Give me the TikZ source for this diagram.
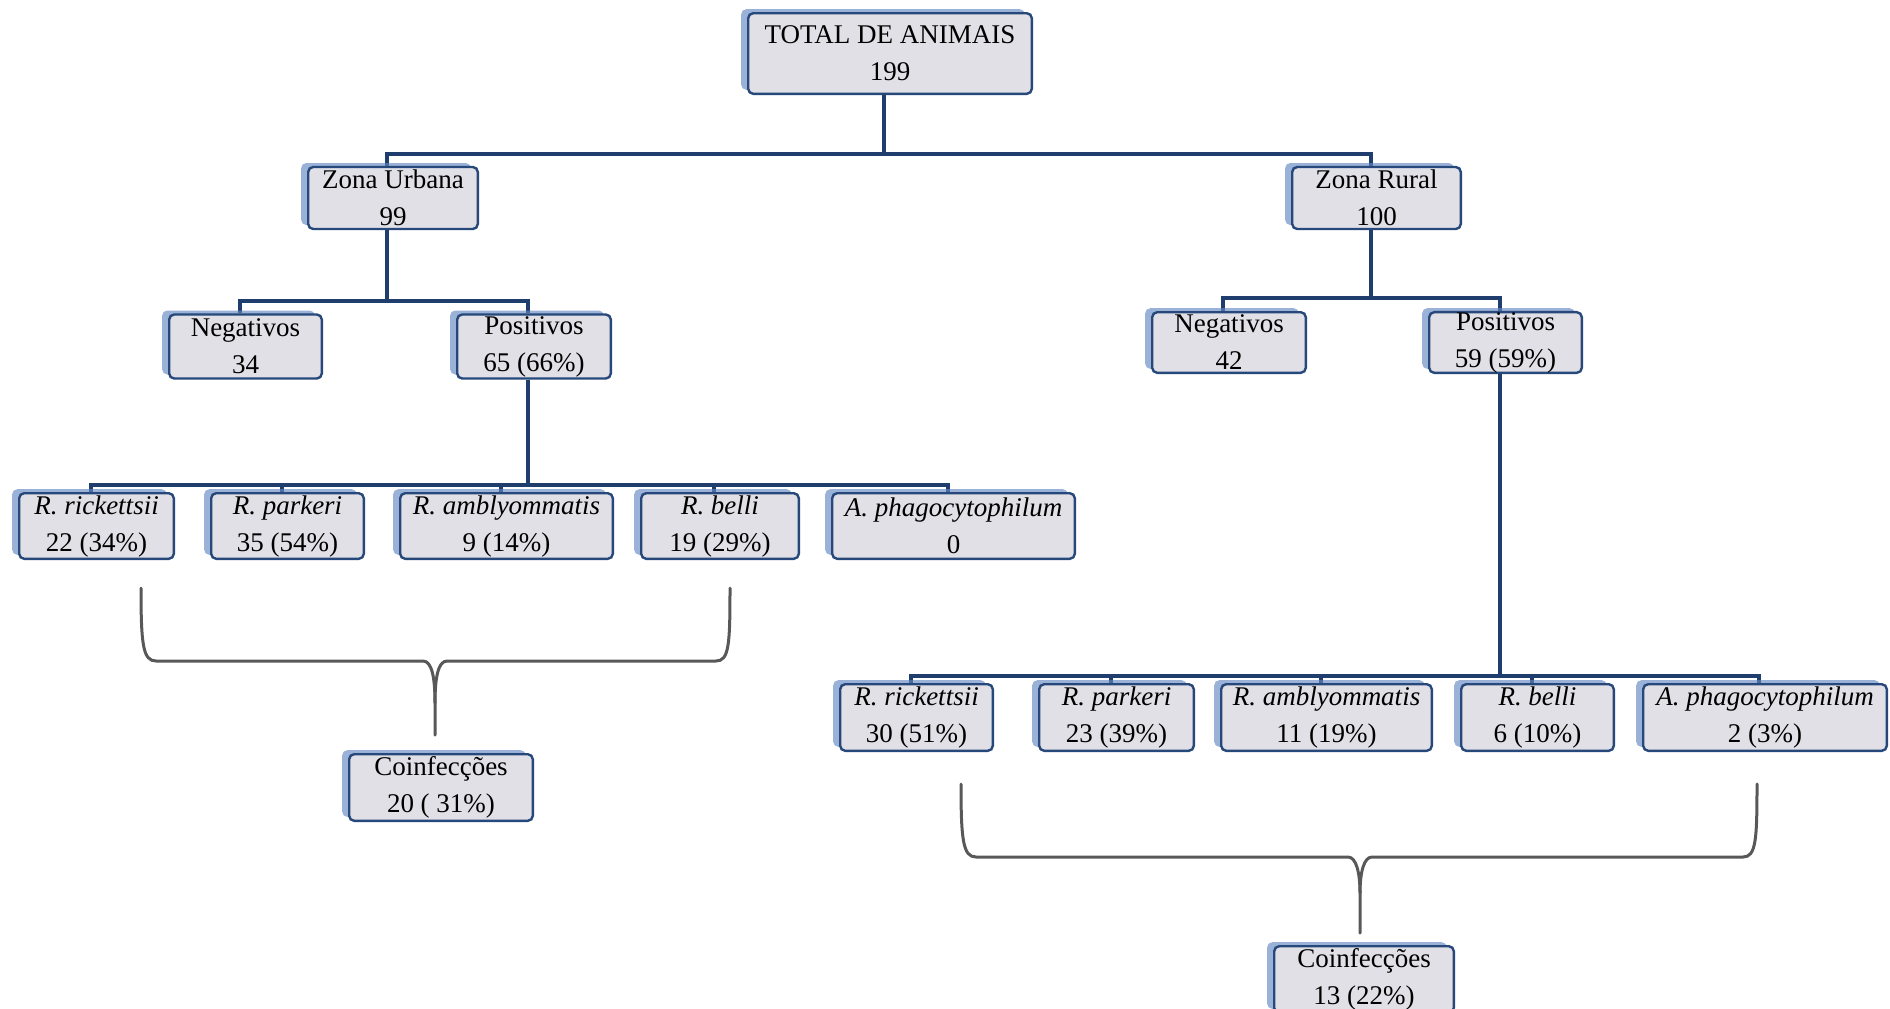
\documentclass[tikz,border=0pt]{standalone}
\usepackage{fontspec}
\setmainfont{Liberation Serif}
\usetikzlibrary{positioning, shadows, backgrounds}
\definecolor{boxfill}{RGB}{225,224,231}
\definecolor{boxline}{RGB}{38,72,122}
\definecolor{linkblue}{RGB}{31,62,110}
\definecolor{shadowblue}{RGB}{100,135,195}
\definecolor{bracegray}{RGB}{88,88,88}
\tikzset{
	x=0.5pt, y=-0.5pt, % one unit is one pixel of the scan, y going down
	box/.style={draw=boxline, line width=1.2pt, fill=boxfill, rounded corners=2.5pt,
		align=center, inner sep=0pt, minimum height=32pt,
		font=\fontsize{13.5pt}{18.5pt}\selectfont,
		drop shadow={shadow xshift=-3.5pt, shadow yshift=2pt, fill=shadowblue, opacity=0.65}}, % the boxes
	link/.style={draw=linkblue, line width=2pt}, % tree lines
	brace/.style={draw=bracegray, line width=1.5pt, line cap=round}, % coinfection braces
}

\begin{document}
\begin{tikzpicture}
		\useasboundingbox (0,0) rectangle (1890,1008);

		% top levels
		\node[box, minimum width=141.8pt, minimum height=40.3pt] (total_node) at (890,53.5) {TOTAL DE ANIMAIS\\199};
		\node[box, minimum width=84.8pt, minimum height=31pt] (urban_node) at (393,198) {Zona Urbana\\99};
		\node[box, minimum width=84.3pt, minimum height=31pt] (rural_node) at (1376.5,198) {Zona Rural\\100};

		\node[box, minimum width=76.3pt] (neg_urban) at (245.5,346.5) {Negativos\\34};
		\node[box, minimum width=76.8pt] (pos_urban) at (534,346.5) {Positivos\\65 (66\%)};
		\node[box, minimum width=76.8pt, minimum height=30.3pt] (neg_rural) at (1229,342.5) {Negativos\\42};
		\node[box, minimum width=76.3pt, minimum height=30.3pt] (pos_rural) at (1505.5,342.5) {Positivos\\59 (59\%)};

		% urban agents
		\node[box, minimum width=77.3pt, minimum height=32.8pt] (rick_urban) at (96.5,526) {\textit{R. rickettsii}\\22 (34\%)};
		\node[box, minimum width=76.3pt, minimum height=32.8pt, right=17.5pt of rick_urban] (park_urban) {\textit{R. parkeri}\\35 (54\%)};
		\node[box, minimum width=106.3pt, minimum height=32.8pt, right=17pt of park_urban] (amb_urban) {\textit{R. amblyommatis}\\9 (14\%)};
		\node[box, minimum width=78.8pt, minimum height=32.8pt, right=13pt of amb_urban] (belli_urban) {\textit{R. belli}\\19 (29\%)};
		\node[box, minimum width=121.3pt, minimum height=32.8pt, right=15.5pt of belli_urban] (apha_urban) {\textit{A. phagocytophilum}\\0};

		% rural agents
		\node[box, minimum width=76.3pt, minimum height=33.3pt] (rick_rural) at (916.5,717.5) {\textit{R. rickettsii}\\30 (51\%)};
		\node[box, minimum width=77.3pt, minimum height=33.3pt, right=22pt of rick_rural] (park_rural) {\textit{R. parkeri}\\23 (39\%)};
		\node[box, minimum width=105.3pt, minimum height=33.3pt, right=12.5pt of park_rural] (amb_rural) {\textit{R. amblyommatis}\\11 (19\%)};
		\node[box, minimum width=76.3pt, minimum height=33.3pt, right=13.5pt of amb_rural] (belli_rural) {\textit{R. belli}\\6 (10\%)};
		\node[box, minimum width=121.8pt, minimum height=33.3pt, right=13.5pt of belli_rural] (apha_rural) {\textit{A. phagocytophilum}\\2 (3\%)};

		\node[box, minimum width=91.8pt, minimum height=33.3pt] (coinf_urban) at (441,787.5) {Coinfecções\\20 ( 31\%)};
		\node[box, minimum width=89.8pt, minimum height=33.3pt] (coinf_rural) at (1364,979.5) {Coinfecções\\13 (22\%)};

		\begin{scope}[on background layer]
			\foreach \zone in {urban_node,rural_node}
				\draw[link] ([xshift=-3pt]total_node.south) |- ([xshift=-3pt,yshift=6pt]\zone.north) -- ([xshift=-3pt]\zone.north);
			\foreach \res in {neg_urban,pos_urban}
				\draw[link] ([xshift=-3pt]urban_node.south) |- ([xshift=-3pt,yshift=6pt]\res.north) -- ([xshift=-3pt]\res.north);
			\foreach \res in {neg_rural,pos_rural}
				\draw[link] ([xshift=-3pt]rural_node.south) |- ([xshift=-3pt,yshift=6.5pt]\res.north) -- ([xshift=-3pt]\res.north);
			\foreach \agent in {rick_urban,park_urban,amb_urban,belli_urban,apha_urban}
				\draw[link] ([xshift=-3pt]pos_urban.south) |- ([xshift=-3pt,yshift=3.5pt]\agent.north) -- ([xshift=-3pt]\agent.north);
			\foreach \agent in {rick_rural,park_rural,amb_rural,belli_rural,apha_rural}
				\draw[link] ([xshift=-3pt]pos_rural.south) |- ([xshift=-3pt,yshift=3.5pt]\agent.north) -- ([xshift=-3pt]\agent.north);
		\end{scope}

		% braces
		\draw[brace] (141,588) .. controls (141,645) and (143,661) .. (156,661) -- (423,661) .. controls (432,661) and (435,678) .. (435,703) -- (435,735);
		\draw[brace] (435,703) .. controls (435,678) and (438,661) .. (447,661) -- (716,661) .. controls (729,661) and (730,645) .. (730,588);
		\draw[brace] (961,784) .. controls (961,840) and (963,857) .. (976,857) -- (1348,857) .. controls (1356,857) and (1360,872) .. (1360,893) -- (1360,933);
		\draw[brace] (1360,893) .. controls (1360,872) and (1364,857) .. (1372,857) -- (1743,857) .. controls (1756,857) and (1757,840) .. (1757,784);
	\end{tikzpicture}
\end{document}
